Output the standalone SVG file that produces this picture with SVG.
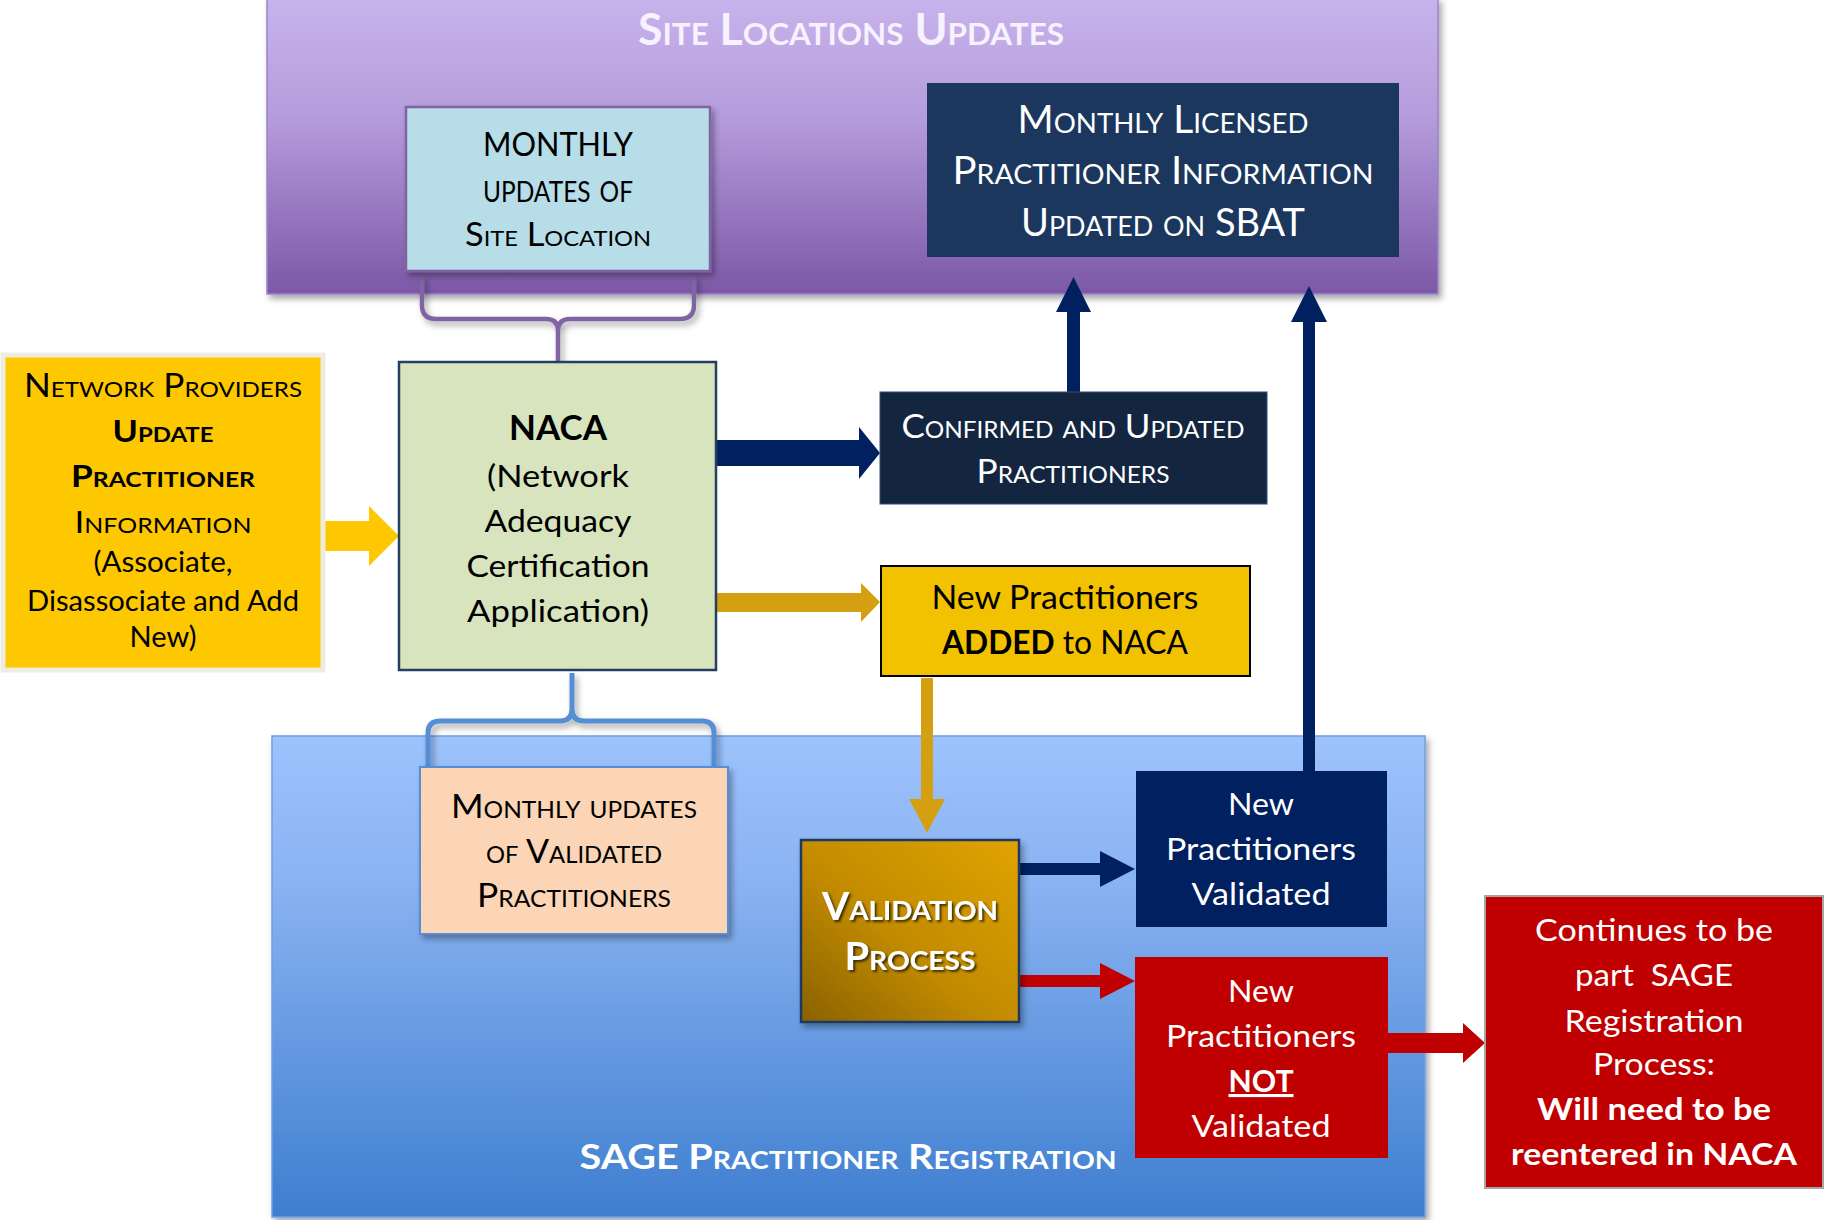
<svg xmlns="http://www.w3.org/2000/svg" width="1824" height="1220" viewBox="0 0 1824 1220">
<defs>
<style>
text{font-family:Lato,"Liberation Sans","DejaVu Sans",sans-serif;text-anchor:middle}
.sc{font-variant:small-caps}
.b{font-weight:bold}
.w{fill:#ffffff}
.k{fill:#000000}
</style>
<linearGradient id="gPurple" x1="0" y1="0" x2="0" y2="1">
<stop offset="0" stop-color="#c8b3ec"/>
<stop offset="0.4" stop-color="#b59cdc"/>
<stop offset="1" stop-color="#7c58a6"/>
</linearGradient>
<linearGradient id="gBlue" x1="0" y1="0" x2="0" y2="1">
<stop offset="0" stop-color="#9dc3fc"/>
<stop offset="0.3" stop-color="#8ab3f2"/>
<stop offset="1" stop-color="#3e7ecf"/>
</linearGradient>
<linearGradient id="gGold" x1="1" y1="0" x2="0" y2="1">
<stop offset="0" stop-color="#e0a300"/>
<stop offset="0.55" stop-color="#c28b00"/>
<stop offset="1" stop-color="#8a6100"/>
</linearGradient>
<filter id="sh" x="-10%" y="-10%" width="120%" height="130%">
<feDropShadow dx="3" dy="4" stdDeviation="3" flood-color="#000" flood-opacity="0.35"/>
</filter>
<filter id="tsh" x="-10%" y="-20%" width="120%" height="150%">
<feDropShadow dx="2" dy="2" stdDeviation="1.2" flood-color="#2a1e00" flood-opacity="0.85"/>
</filter>
</defs>
<rect width="1824" height="1220" fill="#ffffff"/>

<g id="panel-site">
<rect x="267" y="-2" width="1171" height="296" fill="url(#gPurple)" stroke="#9c83c8" stroke-width="1.5" filter="url(#sh)"/>
<text class="sc b" x="851" y="45" font-size="44" fill="#f6f2ff" textLength="426" lengthAdjust="spacingAndGlyphs">Site Locations Updates</text>
</g>

<g id="panel-sage">
<rect x="272" y="736" width="1153" height="481" fill="url(#gBlue)" stroke="#6f9fe6" stroke-width="1.5" filter="url(#sh)"/>
<text class="sc b w" x="848" y="1169" font-size="35" textLength="537" lengthAdjust="spacingAndGlyphs">SAGE Practitioner Registration</text>
</g>

<g id="connectors">
<path d="M422,276 V305 Q422,319 436,319 H546 Q558,319 558,331 V363 M694,276 V305 Q694,319 680,319 H570 Q558,319 558,331" fill="none" stroke="#8064a2" stroke-width="4.5" filter="url(#sh)"/>
<path d="M572,673 V709 Q572,721 560,721 H440 Q428,721 428,733 V768 M572,709 Q572,721 584,721 H702 Q714,721 714,733 V768" fill="none" stroke="#558ed5" stroke-width="5" filter="url(#sh)"/>
<polygon points="321,521 369,521 369,506 399,536 369,566 369,551 321,551" fill="#fec800"/>
<polygon points="716,440 859,440 859,427 880,453 859,479 859,466 716,466" fill="#002060"/>
<polygon points="716,593 861,593 861,583 880,602 861,622 861,612 716,612" fill="#d4a012"/>
<polygon points="921,678 933,678 933,799 945,799 927,833 909,799 921,799" fill="#d4a012"/>
<polygon points="1067,392 1067,312 1056,312 1073.5,277 1091,312 1080,312 1080,392" fill="#002060"/>
<polygon points="1303,771 1303,322 1291,322 1309,286 1327,322 1315,322 1315,771" fill="#002060"/>
<polygon points="1019,863 1100,863 1100,851 1135,869 1100,887 1100,875 1019,875" fill="#002060"/>
<polygon points="1019,975 1100,975 1100,963 1135,981 1100,999 1100,987 1019,987" fill="#c00000"/>
<polygon points="1388,1033 1463,1033 1463,1023 1485,1043 1463,1063 1463,1053 1388,1053" fill="#c00000"/>
</g>

<g id="node-site-monthly">
<rect x="406" y="107" width="304" height="164" fill="#b7dde8" stroke="#8064a2" stroke-width="2.5" filter="url(#sh)"/>
<text class="k" x="558" y="156" font-size="32" textLength="150" lengthAdjust="spacingAndGlyphs">MONTHLY</text>
<text class="sc k" x="558" y="202" font-size="40" textLength="150" lengthAdjust="spacingAndGlyphs">updates of</text>
<text class="sc k" x="558" y="246" font-size="32" textLength="186" lengthAdjust="spacingAndGlyphs">Site Location</text>
</g>

<g id="node-licensed">
<rect x="927" y="83" width="472" height="174" fill="#1b375e"/>
<text class="sc w" x="1163" y="133" font-size="38" textLength="291" lengthAdjust="spacingAndGlyphs">Monthly Licensed</text>
<text class="sc w" x="1163" y="184" font-size="38" textLength="421" lengthAdjust="spacingAndGlyphs">Practitioner Information</text>
<text class="sc w" x="1163" y="236" font-size="38" textLength="284" lengthAdjust="spacingAndGlyphs">Updated on SBAT</text>
</g>

<g id="node-network">
<rect x="3" y="355" width="320" height="315" fill="#fec800" stroke="#eeece1" stroke-width="5"/>
<text class="sc k" x="163" y="397" font-size="32" textLength="278" lengthAdjust="spacingAndGlyphs">Network Providers</text>
<text class="sc b k" x="163" y="442" font-size="30" textLength="101" lengthAdjust="spacingAndGlyphs">Update</text>
<text class="sc b k" x="163" y="487" font-size="30" textLength="184" lengthAdjust="spacingAndGlyphs">Practitioner</text>
<text class="sc k" x="163" y="533" font-size="31" textLength="177" lengthAdjust="spacingAndGlyphs">Information</text>
<text class="k" x="163" y="572" font-size="28" textLength="139" lengthAdjust="spacingAndGlyphs">(Associate,</text>
<text class="k" x="163" y="611" font-size="28" textLength="272" lengthAdjust="spacingAndGlyphs">Disassociate and Add</text>
<text class="k" x="163" y="647" font-size="28" textLength="67" lengthAdjust="spacingAndGlyphs">New)</text>
</g>

<g id="node-naca">
<rect x="399" y="362" width="317" height="308" fill="#d7e4bd" stroke="#243f60" stroke-width="2.5"/>
<text class="b k" x="558" y="440" font-size="35" textLength="98" lengthAdjust="spacingAndGlyphs">NACA</text>
<text class="k" x="558" y="487" font-size="31" textLength="142" lengthAdjust="spacingAndGlyphs">(Network</text>
<text class="k" x="558" y="532" font-size="31" textLength="147" lengthAdjust="spacingAndGlyphs">Adequacy</text>
<text class="k" x="558" y="577" font-size="31" textLength="183" lengthAdjust="spacingAndGlyphs">Certification</text>
<text class="k" x="558" y="622" font-size="31" textLength="182" lengthAdjust="spacingAndGlyphs">Application)</text>
</g>

<g id="node-confirmed">
<rect x="880" y="392" width="387" height="112" fill="#14263f" stroke="#2b4a78" stroke-width="1"/>
<text class="sc w" x="1073" y="438" font-size="33" textLength="343" lengthAdjust="spacingAndGlyphs">Confirmed and Updated</text>
<text class="sc w" x="1073" y="483" font-size="33" textLength="193" lengthAdjust="spacingAndGlyphs">Practitioners</text>
</g>

<g id="node-added">
<rect x="881" y="566" width="369" height="110" fill="#f2c200" stroke="#000000" stroke-width="2"/>
<text class="k" x="1065" y="609" font-size="32" textLength="267" lengthAdjust="spacingAndGlyphs">New Practitioners</text>
<text class="k" x="1065" y="654" font-size="32" textLength="246" lengthAdjust="spacingAndGlyphs"><tspan class="b">ADDED</tspan> to NACA</text>
</g>

<g id="node-monthly-validated">
<rect x="420" y="767" width="308" height="167" fill="#fbd5b5" stroke="#558ed5" stroke-width="2" filter="url(#sh)"/>
<text class="sc k" x="574" y="818" font-size="33" textLength="246" lengthAdjust="spacingAndGlyphs">Monthly updates</text>
<text class="sc k" x="574" y="863" font-size="33" textLength="176" lengthAdjust="spacingAndGlyphs">of Validated</text>
<text class="sc k" x="574" y="907" font-size="33" textLength="194" lengthAdjust="spacingAndGlyphs">Practitioners</text>
</g>

<g id="node-validation">
<rect x="801" y="840" width="218" height="182" fill="url(#gGold)" stroke="#1f3864" stroke-width="2.5" filter="url(#sh)"/>
<text class="sc b w" x="910" y="920" font-size="38" textLength="176" lengthAdjust="spacingAndGlyphs" filter="url(#tsh)">Validation</text>
<text class="sc b w" x="910" y="970" font-size="38" textLength="131" lengthAdjust="spacingAndGlyphs" filter="url(#tsh)">Process</text>
</g>

<g id="node-validated">
<rect x="1136" y="771" width="251" height="156" fill="#002060"/>
<text class="w" x="1261" y="815" font-size="31" textLength="66" lengthAdjust="spacingAndGlyphs">New</text>
<text class="w" x="1261" y="860" font-size="31" textLength="190" lengthAdjust="spacingAndGlyphs">Practitioners</text>
<text class="w" x="1261" y="905" font-size="31" textLength="139" lengthAdjust="spacingAndGlyphs">Validated</text>
</g>

<g id="node-not-validated">
<rect x="1135" y="957" width="253" height="201" fill="#c00000"/>
<text class="w" x="1261" y="1002" font-size="31" textLength="66" lengthAdjust="spacingAndGlyphs">New</text>
<text class="w" x="1261" y="1047" font-size="31" textLength="190" lengthAdjust="spacingAndGlyphs">Practitioners</text>
<text class="b w" x="1261" y="1092" font-size="31" textLength="65" lengthAdjust="spacingAndGlyphs" text-decoration="underline">NOT</text>
<text class="w" x="1261" y="1137" font-size="31" textLength="139" lengthAdjust="spacingAndGlyphs">Validated</text>
</g>

<g id="node-continues">
<rect x="1485" y="896" width="338" height="292" fill="#c00000" stroke="#a5a5a5" stroke-width="2"/>
<text class="w" x="1654" y="941" font-size="31" textLength="238" lengthAdjust="spacingAndGlyphs">Continues to be</text>
<text class="w" x="1654" y="986" font-size="31" textLength="158" lengthAdjust="spacingAndGlyphs" style="white-space:pre">part  SAGE</text>
<text class="w" x="1654" y="1032" font-size="31" textLength="179" lengthAdjust="spacingAndGlyphs">Registration</text>
<text class="w" x="1654" y="1075" font-size="31" textLength="122" lengthAdjust="spacingAndGlyphs">Process:</text>
<text class="b w" x="1654" y="1120" font-size="31" textLength="234" lengthAdjust="spacingAndGlyphs">Will need to be</text>
<text class="b w" x="1654" y="1165" font-size="31" textLength="286" lengthAdjust="spacingAndGlyphs">reentered in NACA</text>
</g>
</svg>
